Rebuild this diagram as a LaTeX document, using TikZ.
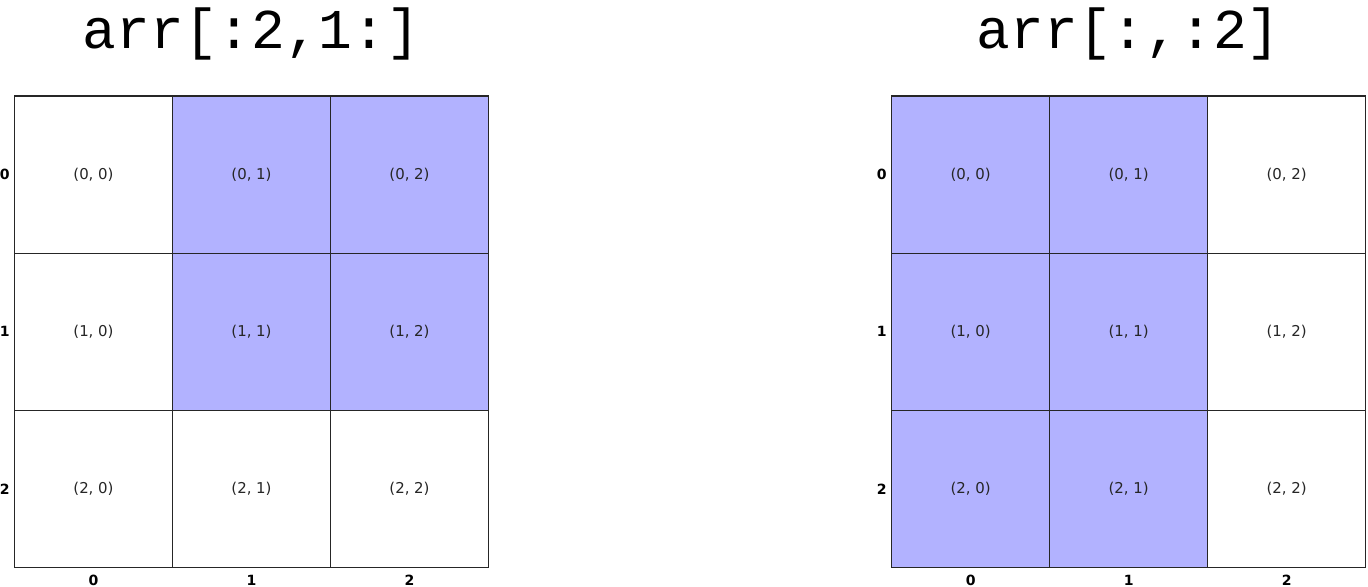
\documentclass[tikz,border=0pt]{standalone}
\usepackage{fontspec}
\setsansfont{DejaVu Sans}
\newfontfamily\codefont{Liberation Mono}
\usetikzlibrary{positioning}

\definecolor{picked}{RGB}{178,178,255}

\begin{document}
\begin{tikzpicture}[x=0.02cm, y=-0.02cm,
    cell/.style={draw=black!85, line width=0.7pt, minimum width=3.16cm, minimum height=3.144cm,
      inner sep=0pt, font=\sffamily\fontsize{8.5}{10}\selectfont, text=black!85},
    tick/.style={inner sep=0pt, font=\sffamily\bfseries\fontsize{8}{10}\selectfont},
    title/.style={anchor=base, font=\codefont\fontsize{32}{36}\selectfont}]
    \useasboundingbox (0,0) rectangle (1368,586);
    \coordinate (base) at (0,48);
    \coordinate (tickbase) at (0,585);
    % left grid: arr[:2,1:]
    \foreach \r in {0,1,2}
    \foreach \c in {0,1,2}
    {
    \pgfmathtruncatemacro\inslice{and(\r<2,\c>0)}
    \ifnum\inslice=1 \def\cellfill{picked}\else\def\cellfill{white}\fi
    \node[cell, fill=\cellfill] (L\r\c) at (93.5+158*\c, 174.6+157.2*\r) {(\r, \c)};
    }
    % right grid: arr[:,:2]
    \foreach \r in {0,1,2}
    \foreach \c in {0,1,2}
    {
    \pgfmathtruncatemacro\inslice{\c<2}
    \ifnum\inslice=1 \def\cellfill{picked}\else\def\cellfill{white}\fi
    \node[cell, fill=\cellfill] (R\r\c) at (970.7+158*\c, 174.6+157.2*\r) {(\r, \c)};
    }
    % axis ticks
    \foreach \i in {0,1,2}
    {
    \node[tick, left=0.08cm of L\i0] {\i};
    \node[tick, anchor=base] at (L2\i |- tickbase) {\i};
    \node[tick, left=0.08cm of R\i0] {\i};
    \node[tick, anchor=base] at (R2\i |- tickbase) {\i};
    }
    \node[title] (ltitle) at (L01 |- base) {arr[:2,1:]};
    \node[title] (rtitle) at (R01 |- base) {arr[:,:2]};
\end{tikzpicture}
\end{document}
